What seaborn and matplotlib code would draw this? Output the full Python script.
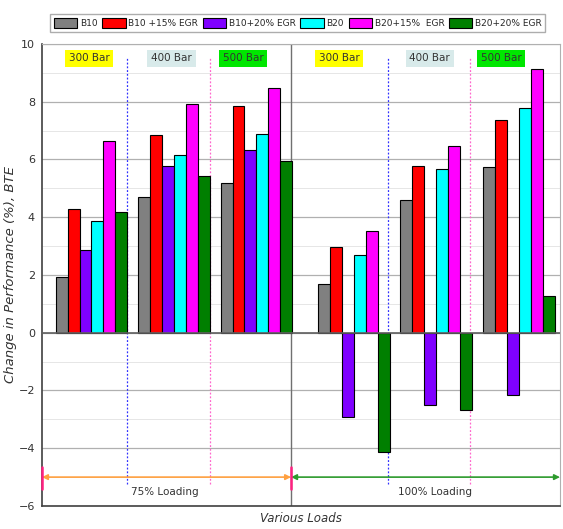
import numpy as np
import pandas as pd
import matplotlib
matplotlib.use("Agg")
import matplotlib.pyplot as plt
import seaborn as sns

# dati (variazione BTE in %)
gruppi = ["300 Bar", "400 Bar", "500 Bar", "300 Bar", "400 Bar", "500 Bar"]
carichi = ["75% Loading", "100% Loading"]
serie = ["B10", "B10 +15% EGR", "B10+20% EGR", "B20", "B20+15%  EGR", "B20+20% EGR"]
b10 = [1.94, 4.70, 5.20, 1.67, 4.60, 5.73]
b10_egr15 = [4.30, 6.84, 7.85, 2.97, 5.78, 7.37]
b10_egr20 = [2.88, 5.77, 6.31, -2.91, -2.50, -2.15]
b20 = [3.87, 6.17, 6.87, 2.69, 5.66, 7.78]
b20_egr15 = [6.65, 7.91, 8.47, 3.52, 6.45, 9.13]
b20_egr20 = [4.19, 5.44, 5.94, -4.13, -2.66, 1.27]

colori = ["#808080", "#ff0000", "#7f00ff", "#00ffff", "#ff00ff", "#007f00"]
box_colori = {"300 Bar": "#ffff00", "400 Bar": "#d8eaea", "500 Bar": "#00e600"}

# posizione dei gruppi sull'asse x (un po' di spazio in piu tra i due carichi)
xpos = [0, 1, 2, 3.18, 4.18, 5.18]

valori = [b10, b10_egr15, b10_egr20, b20, b20_egr15, b20_egr20]
righe = []
for s, v in zip(serie, valori):
    for i in range(len(gruppi)):
        righe.append({"x": xpos[i], "serie": s, "val": v[i]})
df = pd.DataFrame(righe)

sns.set_style("white")
fig = plt.figure(figsize=(5.63, 5.29), dpi=100)
ax = fig.add_axes([0.0746, 0.0435, 0.92, 0.8735])

# griglia
for y in range(-6, 11):
    if y % 2 == 0:
        ax.axhline(y, color="#b0b0b0", lw=0.9, zorder=0)
    else:
        ax.axhline(y, color="#e6e6e6", lw=0.7, zorder=0)

sns.barplot(data=df, x="x", y="val", hue="serie", hue_order=serie,
            palette=colori, native_scale=True, width=0.87,
            edgecolor="black", linewidth=0.8, saturation=1, ax=ax, zorder=3)

ax.axhline(0, color="#606060", lw=1.2, zorder=4)
ax.set_xlim(-0.6, 5.68)
ax.set_ylim(-6, 10)
ax.set_yticks(range(-6, 11, 2))
ax.set_xticks([])
ax.tick_params(axis="y", labelsize=8, colors="#333333", length=3, pad=2)
for sp in ["left", "bottom"]:
    ax.spines[sp].set_color("#404040")
    ax.spines[sp].set_linewidth(1.2)
for sp in ["top", "right"]:
    ax.spines[sp].set_color("#b0b0b0")

# linea centrale tra 75% e 100%
mid = 2.42
ax.plot([mid, mid], [-6, 10], color="#707070", lw=1, zorder=2)

# linee tratteggiate tra le pressioni
for xd, c in [(0.43, "#3030ff"), (3.594, "#3030ff"), (1.436, "#ff66cc"), (4.588, "#ff66cc")]:
    ax.plot([xd, xd], [-5.25, 9.5], color=c, lw=0.9, ls=(0, (1.5, 1.5)), zorder=2)

# etichette delle pressioni
for xl, g in zip([-0.03, 0.97, 1.84, 3.0, 4.1, 4.97], gruppi):
    ax.text(xl, 9.5, g, ha="center", va="center", fontsize=7.5, color="#333333",
            bbox=dict(boxstyle="square,pad=0.35", fc=box_colori[g], ec="none"), zorder=5)

# frecce dei carichi
ax.annotate("", xy=(-0.6, -5.0), xytext=(mid, -5.0),
            arrowprops=dict(arrowstyle="<|-|>", color="#ffa040", lw=1.2,
                            mutation_scale=8, shrinkA=0, shrinkB=0), zorder=5)
ax.annotate("", xy=(mid, -5.0), xytext=(5.68, -5.0),
            arrowprops=dict(arrowstyle="<|-|>", color="#2e9b2e", lw=1.2,
                            mutation_scale=8, shrinkA=0, shrinkB=0), zorder=5)
for xm in [-0.6, mid]:
    ax.plot([xm, xm], [-4.65, -5.4], color="#ff2080", lw=1.8, zorder=6, clip_on=False)
ax.text(0.89, -5.5, carichi[0], ha="center", va="center", fontsize=7.5, color="#333333")
ax.text(4.16, -5.5, carichi[1], ha="center", va="center", fontsize=7.5, color="#333333")

ax.set_ylabel("Change in Performance (%), BTE", fontsize=9.5, style="italic",
              color="#333333", labelpad=1)
ax.set_xlabel("Various Loads", fontsize=8.5, style="italic", color="#333333", labelpad=4)

sns.move_legend(ax, "lower center", bbox_to_anchor=(0.494, 1.017), ncol=6, title=None,
                frameon=True, fontsize=6.5, handlelength=2.6, handleheight=1.3,
                handletextpad=0.3, columnspacing=0.5, borderpad=0.4,
                edgecolor="#999999", fancybox=False)

fig.savefig("out.png", dpi=100)
